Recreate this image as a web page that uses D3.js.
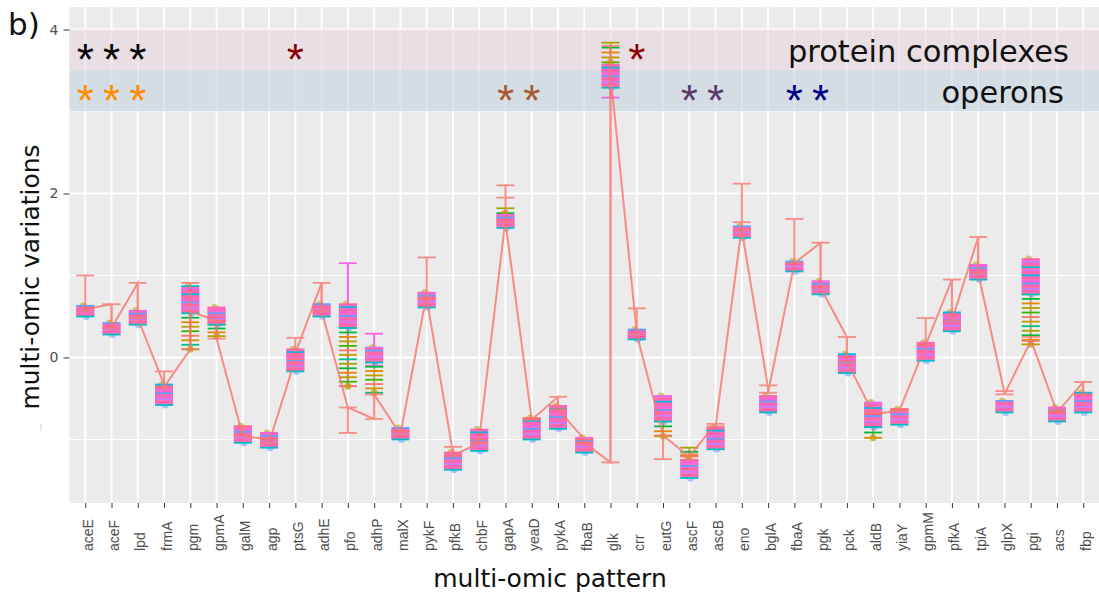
<!DOCTYPE html>
<html>
<head>
<meta charset="utf-8">
<script src="https://cdn.jsdelivr.net/npm/d3@7"></script>
<style>
body { margin: 0; background: #fff; }
svg text { font-family: "DejaVu Sans", sans-serif; }
</style>
</head>
<body>
<div id="chart"></div>
<script>
// genes on the x axis, in plot order
const genes = ["aceE","aceF","lpd","frmA","pgm","gpmA","galM","agp","ptsG","adhE",
  "pfo","adhP","malX","pykF","pfkB","chbF","gapA","yeaD","pykA","fbaB",
  "glk","crr","eutG","ascF","ascB","eno","bglA","fbaA","pgk","pck",
  "aldB","yiaY","gpmM","pfkA","tpiA","glpX","pgi","acs","fbp"];

// salmon trace: where the line enters / leaves each gene
const lineIn  = [0.57,0.65,0.91,-0.33,0.10,0.45,-0.96,-1.00,-0.02,0.91,
  -0.61,-0.75,-0.94,0.77,-1.16,-1.04,1.68,-0.76,-0.48,-1.00,
  -1.28,0.30,-0.95,-1.21,-0.81,1.60,-0.37,1.15,1.40,0.25,
  -0.68,-0.65,0.15,0.95,1.47,-0.43,0.20,-0.67,-0.30];
const lineOut = [0.59,0.36,0.48,-0.36,0.56,0.23,-0.96,-1.04,0.05,0.57,
  -0.61,-0.45,-0.94,0.72,-1.20,-1.00,1.65,-0.76,-0.63,-1.04,
  3.45,0.28,-0.95,-1.21,-0.84,1.55,-0.43,1.15,0.85,-0.05,
  -0.69,-0.65,0.15,0.45,1.03,-0.45,0.22,-0.67,-0.45];

// salmon error bars
const barLo = [0.57,0.36,0.48,-0.36,0.10,0.23,-0.96,-1.04,-0.02,0.57,
  -0.92,-0.75,-0.94,0.72,-1.20,-1.04,1.65,-0.76,-0.63,-1.04,
  -1.28,0.28,-1.24,-1.21,-0.84,1.55,-0.43,1.15,0.85,-0.05,
  -0.69,-0.65,0.15,0.45,1.03,-0.45,0.20,-0.67,-0.45];
const barHi = [1.00,0.65,0.91,-0.17,0.91,0.45,-0.84,-1.00,0.24,0.91,
  -0.61,-0.45,-0.90,1.22,-1.09,-1.00,2.10,-0.74,-0.48,-1.00,
  3.80,0.60,-0.95,-1.18,-0.81,2.12,-0.34,1.69,1.40,0.25,
  -0.68,-0.63,0.48,0.95,1.47,-0.41,0.25,-0.65,-0.30];

// tight cluster of the other layers (coloured block)
const boxLo = [0.50,0.28,0.40,-0.58,0.54,0.40,-1.04,-1.10,-0.17,0.50,
  0.36,-0.06,-1.00,0.61,-1.37,-1.14,1.58,-1.00,-0.87,-1.16,
  3.29,0.22,-0.78,-1.47,-1.12,1.46,-0.67,1.05,0.77,-0.19,
  -0.85,-0.82,-0.04,0.32,0.95,-0.67,0.77,-0.78,-0.67];
const boxHi = [0.63,0.42,0.57,-0.33,0.87,0.61,-0.84,-0.92,0.10,0.65,
  0.65,0.12,-0.86,0.79,-1.16,-0.88,1.74,-0.74,-0.59,-0.98,
  3.57,0.34,-0.47,-1.25,-0.86,1.60,-0.47,1.17,0.93,0.04,
  -0.55,-0.63,0.18,0.55,1.13,-0.53,1.20,-0.61,-0.43];

// genes where layers spread out (olive / green dashes)
const spreadGenes = ["pgm","gpmA","pfo","adhP","gapA","glk","eutG","ascF","aldB","pgi"];
const spreadLo = [0.10,0.26,-0.35,-0.43,1.76,3.60,-0.96,-1.25,-0.98,0.16];
const spreadHi = [0.54,0.40,0.36,-0.06,1.82,3.84,-0.78,-1.10,-0.85,0.77];

// long magenta error bars
const pinkGenes = ["pfo","adhP","glk"];
const pinkLo = [-0.35,-0.10,3.17];
const pinkHi = [1.15,0.29,3.50];

// extra salmon whiskers
const extraGenes = ["gapA","eno"];
const extraVals = [1.95,1.65];

const yTicks = [0, 2, 4];
const yMinor = [-1, 1, 3];

// annotation bands
const bandLabels = ["protein complexes", "operons"];
const bandLo = [3.5, 3.0];
const bandHi = [4.0, 3.5];

const complexGenes = ["aceE","aceF","lpd","ptsG","crr"];
const complexColors = ["black","black","black","#8B0000","#8B0000"];
const operonGenes = ["aceE","aceF","lpd","gapA","yeaD","ascF","ascB","fbaA","pgk"];
const operonColors = ["#FF8C00","#FF8C00","#FF8C00","#A85A2E","#A85A2E","#5B3A6B","#5B3A6B","#00008B","#00008B"];

var width = 1099, height = 595;
var pLeft = 69.5, pRight = 1099, pTop = 7, pBottom = 503;

var svg = d3.select("#chart").append("svg")
  .attr("width", width)
  .attr("height", height);

var x = d3.scalePoint().domain(genes).range([pLeft, pRight]).padding(0.6);
var y = d3.scaleLinear().domain([-1.775, 4.275]).range([pBottom, pTop]);

// panel
svg.append("rect")
  .attr("x", pLeft).attr("y", pTop)
  .attr("width", pRight - pLeft).attr("height", pBottom - pTop)
  .attr("fill", "#EBEBEB");

svg.selectAll(".gminor")
  .data(yMinor).enter().append("line")
  .attr("x1", pLeft).attr("x2", pRight)
  .attr("y1", d => y(d)).attr("y2", d => y(d))
  .attr("stroke", "white").attr("stroke-width", 1);

svg.selectAll(".gmajor")
  .data(yTicks).enter().append("line")
  .attr("x1", pLeft).attr("x2", pRight)
  .attr("y1", d => y(d)).attr("y2", d => y(d))
  .attr("stroke", "white").attr("stroke-width", 1.9);

svg.selectAll(".gx")
  .data(genes).enter().append("line")
  .attr("x1", d => x(d)).attr("x2", d => x(d))
  .attr("y1", pTop).attr("y2", pBottom)
  .attr("stroke", "white").attr("stroke-width", 1.9);

// bands
var bandFill = ["#E5D3DD", "#BFD1DD"];
svg.selectAll(".band")
  .data(bandLabels).enter().append("rect")
  .attr("x", pLeft).attr("width", pRight - pLeft)
  .attr("y", (d, i) => y(bandHi[i]))
  .attr("height", (d, i) => y(bandLo[i]) - y(bandHi[i]))
  .attr("fill", (d, i) => bandFill[i])
  .attr("fill-opacity", 0.55);

var hw = 9; // half width of whiskers / blocks

function whisker(g, cx, v, col, sw) {
  g.append("line")
    .attr("x1", cx - hw).attr("x2", cx + hw)
    .attr("y1", y(v)).attr("y2", y(v))
    .attr("stroke", col).attr("stroke-width", sw || 1.8);
}

var marks = svg.append("g");

// magenta bars
pinkGenes.forEach(function(gn, i) {
  var cx = x(gn);
  marks.append("line")
    .attr("x1", cx).attr("x2", cx)
    .attr("y1", y(pinkLo[i])).attr("y2", y(pinkHi[i]))
    .attr("stroke", "#F564E3").attr("stroke-width", 2);
  whisker(marks, cx, pinkHi[i], "#F564E3");
  whisker(marks, cx, pinkLo[i], "#F564E3");
});

// spread of layers
var spreadCols = ["#A3A500","#00BA38","#E58700","#B79F00","#39B600","#F8766D","#C99800","#00C08B"];
spreadGenes.forEach(function(gn, i) {
  var cx = x(gn);
  var y0 = y(spreadHi[i]), y1 = y(spreadLo[i]);
  marks.append("line")
    .attr("x1", cx).attr("x2", cx).attr("y1", y0).attr("y2", y1)
    .attr("stroke", "#C9892E").attr("stroke-width", 2).attr("opacity", 0.8);
  var n = Math.max(2, Math.round((y1 - y0) / 4.5) + 1);
  for (var k = 0; k < n; k++) {
    var yy = y0 + (y1 - y0) * k / (n - 1);
    marks.append("line")
      .attr("x1", cx - hw).attr("x2", cx + hw)
      .attr("y1", yy).attr("y2", yy)
      .attr("stroke", spreadCols[k % spreadCols.length]).attr("stroke-width", 1.8);
  }
  marks.append("circle").attr("cx", cx).attr("cy", y1).attr("r", 3.5)
    .attr("fill", "#B79F00").attr("opacity", 0.7);
});

// coloured blocks
var boxCols = ["#00BFC4","#FF64B0","#C77CFF","#FF64B0","#619CFF","#F564E3","#FF64B0","#00B8E7","#FF64B0","#E76BF3"];
genes.forEach(function(gn, i) {
  var cx = x(gn);
  var y0 = y(boxHi[i]), y1 = y(boxLo[i]);
  marks.append("circle").attr("cx", cx - 2).attr("cy", y0).attr("r", 3.5).attr("fill", "#B79F00").attr("opacity", 0.55);
  marks.append("circle").attr("cx", cx + 1).attr("cy", y1).attr("r", 3.5).attr("fill", "#619CFF").attr("opacity", 0.55);
  marks.append("rect")
    .attr("x", cx - hw).attr("width", 2 * hw)
    .attr("y", y0).attr("height", y1 - y0)
    .attr("fill", "#FF6EB4");
  var n = Math.max(3, Math.round((y1 - y0) / 2.8) + 1);
  for (var k = 0; k < n; k++) {
    var yy = y1 - (y1 - y0) * k / (n - 1);
    marks.append("line")
      .attr("x1", cx - hw).attr("x2", cx + hw)
      .attr("y1", yy).attr("y2", yy)
      .attr("stroke", boxCols[k % boxCols.length]).attr("stroke-width", 1.8);
  }
});

// salmon trace and its bars
var pts = [];
genes.forEach(function(gn, i) {
  pts.push([x(gn), y(lineIn[i])]);
  pts.push([x(gn), y(lineOut[i])]);
});
var salmon = svg.append("g").attr("opacity", 0.8);
salmon.append("path")
  .attr("d", d3.line()(pts))
  .attr("fill", "none")
  .attr("stroke", "#F8766D")
  .attr("stroke-width", 2);

genes.forEach(function(gn, i) {
  var cx = x(gn);
  salmon.append("line")
    .attr("x1", cx).attr("x2", cx)
    .attr("y1", y(barLo[i])).attr("y2", y(barHi[i]))
    .attr("stroke", "#F8766D").attr("stroke-width", 2);
  whisker(salmon, cx, barLo[i], "#F8766D");
  whisker(salmon, cx, barHi[i], "#F8766D");
});
extraGenes.forEach(function(gn, i) {
  whisker(salmon, x(gn), extraVals[i], "#F8766D");
});

// stars
var starSize = 44;
var starFont = "'Liberation Sans', Arial, sans-serif";
svg.selectAll(".cstar")
  .data(complexGenes).enter().append("text")
  .attr("x", d => x(d))
  .attr("y", y(3.75) + 0.57 * starSize)
  .attr("text-anchor", "middle")
  .attr("font-size", starSize)
  .style("font-family", starFont)
  .attr("fill", (d, i) => complexColors[i])
  .text("*");

svg.selectAll(".ostar")
  .data(operonGenes).enter().append("text")
  .attr("x", d => x(d))
  .attr("y", y(3.25) + 0.57 * starSize)
  .attr("text-anchor", "middle")
  .attr("font-size", starSize)
  .style("font-family", starFont)
  .attr("fill", (d, i) => operonColors[i])
  .text("*");

// band labels
var labelRight = [1069, 1064];
svg.selectAll(".blab")
  .data(bandLabels).enter().append("text")
  .attr("x", (d, i) => labelRight[i])
  .attr("y", (d, i) => (y(bandLo[i]) + y(bandHi[i])) / 2 + 12)
  .attr("text-anchor", "end")
  .attr("font-size", 30.5)
  .attr("fill", "#111")
  .text(d => d);

// axes
var yAxis = svg.append("g")
  .attr("transform", "translate(" + pLeft + ",0)")
  .call(d3.axisLeft(y).tickValues(yTicks).tickFormat(d3.format("d")).tickSize(6).tickPadding(5));
yAxis.select(".domain").remove();
yAxis.selectAll("line").attr("stroke", "#333");
yAxis.selectAll("text")
  .attr("font-size", 14)
  .attr("fill", "#4D4D4D");

var xAxis = svg.append("g")
  .attr("transform", "translate(0," + pBottom + ")")
  .call(d3.axisBottom(x).tickSize(5));
xAxis.select(".domain").remove();
xAxis.selectAll("line").attr("stroke", "#333");
xAxis.selectAll("text")
  .attr("transform", "rotate(-90)")
  .attr("text-anchor", "start")
  .attr("x", -48)
  .attr("y", 7)
  .attr("dy", null)
  .attr("font-size", 14)
  .style("font-family", "'Liberation Sans', Arial, sans-serif")
  .attr("fill", "#4D4D4D");

// titles
svg.append("text")
  .attr("x", 550).attr("y", 587)
  .attr("text-anchor", "middle")
  .attr("font-size", 25)
  .attr("fill", "#111")
  .text("multi-omic pattern");

svg.append("text")
  .attr("transform", "translate(39,277) rotate(-90)")
  .attr("text-anchor", "middle")
  .attr("font-size", 25)
  .attr("fill", "#111")
  .text("multi-omic variations");

svg.append("text")
  .attr("x", 8).attr("y", 35)
  .attr("font-size", 31)
  .attr("fill", "#111")
  .text("b)");

// faint stray mark left of the axis
svg.append("line")
  .attr("x1", 41).attr("x2", 41).attr("y1", 424).attr("y2", 431)
  .attr("stroke", "#ccc").attr("stroke-width", 1);
</script>
</body>
</html>
